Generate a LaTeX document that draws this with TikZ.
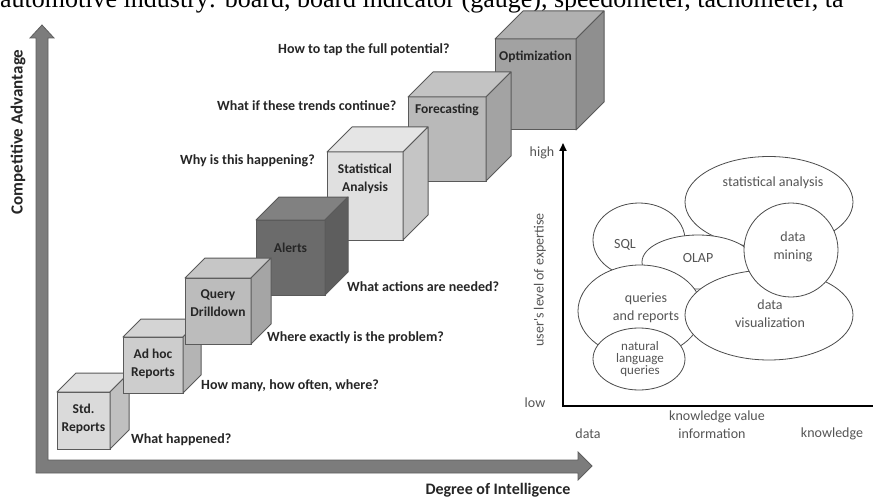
\documentclass[tikz,border=0pt]{standalone}
\usepackage{fontspec}
\setmainfont{Liberation Serif}
\newfontfamily\calfont{Carlito}
\usetikzlibrary{arrows.meta,shapes.geometric}
\definecolor{edgegray}{HTML}{5A5A5A}
\definecolor{axisgray}{HTML}{7C7C7C}
\definecolor{axisedge}{HTML}{5E5E5E}
\definecolor{cStd}{HTML}{DADADA}
\definecolor{cAdhoc}{HTML}{CDCDCD}
\definecolor{cQuery}{HTML}{BCBCBC}
\definecolor{cAlerts}{HTML}{6B6B6B}
\definecolor{cStat}{HTML}{E0E0E0}
\definecolor{cFore}{HTML}{B9B9B9}
\definecolor{cOpt}{HTML}{A2A2A2}
\definecolor{bubtext}{HTML}{555555}
\newcommand\mkcube[9]{%
  \node[cubefront, fill=#7, minimum width=#4pt, minimum height=#5pt] (#1) at (#2,#3) {};
  \filldraw[cubeedge, fill=#7!85!white] (#1.north west) -- ++(#6,-#6) -- ++(#4,0) -- (#1.north east) -- cycle;
  \filldraw[cubeedge, fill=#7!88!black] (#1.north east) -- ++(#6,-#6) -- ++(0,#5) -- (#1.south east) -- cycle;
  \path (#1.north) ++(0,#9) node[cubelbl] (#1-t) {#8};
}
\begin{document}
\begin{tikzpicture}[x=1pt,y=-1pt,
  cubefront/.style={draw=edgegray, line width=1pt, outer sep=0pt, inner sep=0pt, anchor=north west},
  cubeedge/.style={draw=edgegray, line width=1pt, line join=round},
  cubelbl/.style={font=\calfont\bfseries\fontsize{13.5}{18.5}\selectfont, align=center, text=black!85, inner sep=0pt},
  question/.style={font=\calfont\bfseries\fontsize{14}{16}\selectfont, anchor=west, text=black!85, inner sep=0pt},
  bub/.style={ellipse, draw=black!70, fill=white, line width=0.8pt, inner sep=0pt},
  bubtxt/.style={font=\calfont\fontsize{14}{18}\selectfont, text=bubtext, align=center, inner sep=0pt},
  axtxt/.style={font=\calfont\fontsize{14}{18}\selectfont, text=bubtext, inner sep=0pt},
  bigtxt/.style={font=\calfont\bfseries\fontsize{16}{18}\selectfont, text=black!85, inner sep=0pt}]
\useasboundingbox (0,0) rectangle (873,500);
\clip (0,0) rectangle (873,500);
\fill[white] (0,0) rectangle (873,500);

% cut-off caption line at the top
\node[anchor=base west, inner sep=0pt, font=\fontsize{26}{26}\selectfont] (caption) at (0,7.5)
  {automotive industry: board, board indicator (gauge), speedometer, tachometer, ta};

% big gray axes
\filldraw[draw=axisedge, fill=axisgray, line width=0.8pt, line join=miter]
  (36,473) -- (36,38) -- (30,38) -- (42,25) -- (54,38) -- (48,38) -- (48,460)
  -- (578,460) -- (578,452) -- (592,466) -- (578,480) -- (578,473) -- cycle;
\node[bigtxt, rotate=90, font=\calfont\bfseries\fontsize{17}{18}\selectfont] (cadv) at (18,132) {Competitive Advantage};
\node[bigtxt] (degint) at (498,490) {Degree of Intelligence};

% cubes, back to front
\mkcube{optim}{495}{39}{81}{91}{28}{cOpt}{Optimization}{18}
\mkcube{fore}{408}{97}{78}{84}{25}{cFore}{Forecasting}{13}
\mkcube{stat}{327}{152}{76}{88}{25}{cStat}{Statistical\\Analysis}{27}
\mkcube{alerts}{256}{220}{69}{75}{23}{cAlerts}{Alerts}{28}
\mkcube{std}{57}{392}{53}{57}{19}{cStd}{Std.\\Reports}{27}
\mkcube{adhoc}{123}{337}{60}{56}{18}{cAdhoc}{Ad hoc\\Reports}{27}
\mkcube{query}{185}{278}{66}{66}{20}{cQuery}{Query\\Drilldown}{25}

% questions
\node[question] (q1) at (131,440) {What happened?};
\node[question] (q2) at (201,386) {How many, how often, where?};
\node[question] (q3) at (267,338) {Where exactly is the problem?};
\node[question] (q4) at (347,287) {What actions are needed?};
\node[question] (q5) at (180,161) {Why is this happening?};
\node[question] (q6) at (217,106) {What if these trends continue?};
\node[question] (q7) at (278,50) {How to tap the full potential?};

% right chart axes
\coordinate (origin) at (563,406);
\coordinate (ytop) at (563,143);
\coordinate (xend) at (885,406);
\draw[line width=1.8pt, -{Triangle[length=8pt,width=7pt]}] (origin) -- (ytop);
\draw[line width=1.8pt] ([xshift=-0.9pt]origin) -- (xend);
\node[axtxt] (high) at (542,153) {high};
\node[axtxt] (low) at (535,403) {low};
\node[axtxt, rotate=90] (expert) at (540,280) {user's level of expertise};
\node[axtxt] (kv) at (717,417) {knowledge value};
\node[axtxt] (xdata) at (588,434) {data};
\node[axtxt] (xinfo) at (712,434) {information};
\node[axtxt] (xknow) at (832,434) {knowledge};

% bubbles
\node[bub, minimum width=168pt, minimum height=91pt] (bstat) at (769,202) {};
\node[bub, minimum width=92pt, minimum height=74pt] (bsql) at (639,240) {};
\node[bub, minimum width=112pt, minimum height=54pt] (bolap) at (698,262) {};
\node[bub, minimum width=124pt, minimum height=92pt] (bquery) at (640,311) {};
\node[bub, minimum width=168pt, minimum height=90pt] (bviz) at (769,315) {};
\node[bub, minimum width=94pt, minimum height=94pt] (bmine) at (791,250) {};
\node[bub, minimum width=92pt, minimum height=62pt] (bnat) at (639,359) {};

\node[bubtxt] (tstat) at (773,183) {statistical analysis};
\node[bubtxt] (tsql) at (625,245) {SQL};
\node[bubtxt] (tolap) at (698,258) {OLAP};
\node[bubtxt] (tmine) at (793,247) {data\\mining};
\node[bubtxt] (tquery) at (646,308) {queries\\and reports};
\node[bubtxt] (tviz) at (770,314) {data\\visualization};
\node[bubtxt, font=\calfont\fontsize{13}{12}\selectfont] (tnat) at (640,359) {natural\\language\\queries};
\end{tikzpicture}
\end{document}
